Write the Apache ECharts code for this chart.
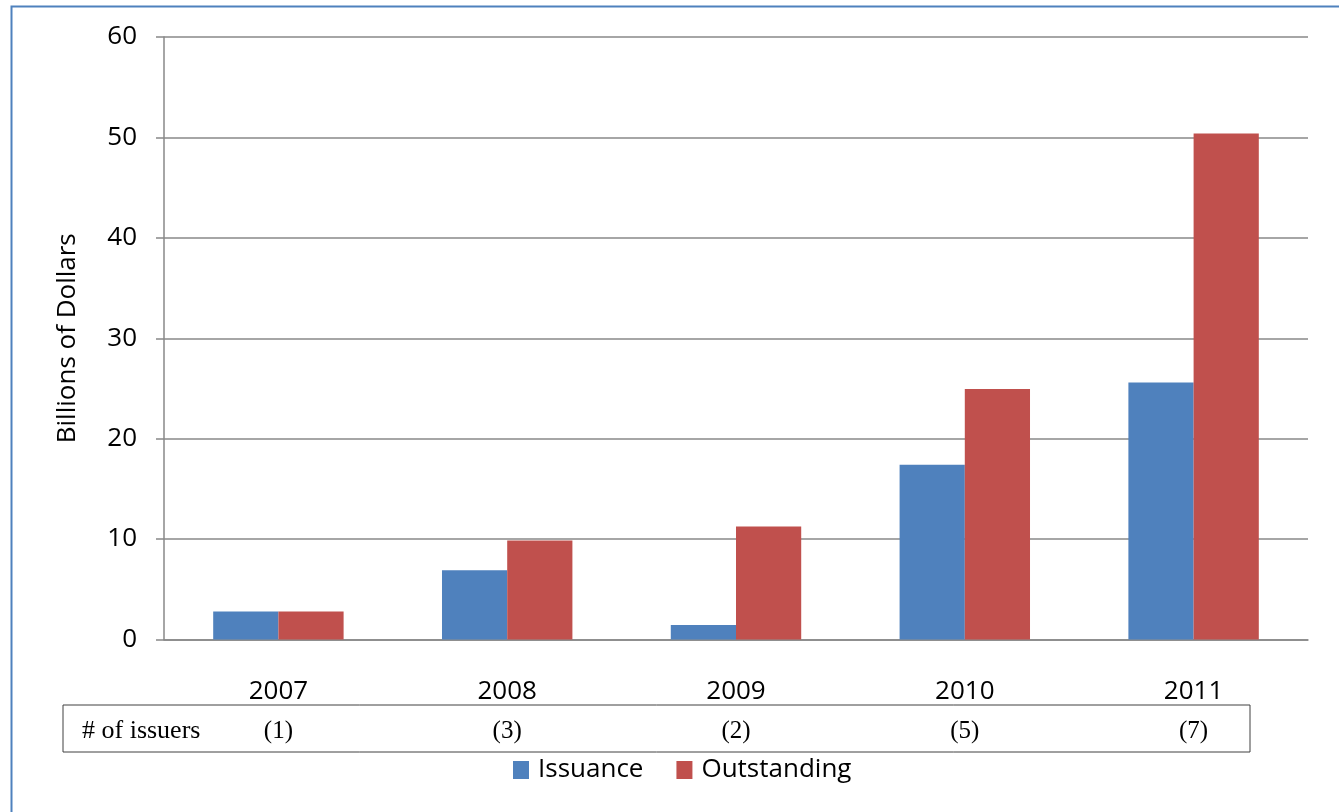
<!DOCTYPE html>
<html>
<head>
<meta charset="utf-8">
<script src="https://cdn.jsdelivr.net/npm/echarts@6/dist/echarts.min.js"></script>
<style>
html,body{margin:0;padding:0;background:#fff;}
#chart{width:1339px;height:812px;}
</style>
</head>
<body>
<div id="chart"></div>
<script>
const years = ['2007', '2008', '2009', '2010', '2011'];
const issuers = ['(1)', '(3)', '(2)', '(5)', '(7)'];
const issuance = [2.8, 6.9, 1.45, 17.4, 25.6];
const outstanding = [2.8, 9.85, 11.25, 24.95, 50.4];
const yTicks = { min: 0, max: 60, interval: 10 };

const chart = echarts.init(document.getElementById('chart'));
const FONT = '"Open Sans", sans-serif';
const SERIF = '"Liberation Serif", "Times New Roman", serif';
chart.setOption({
  animation: false,
  backgroundColor: '#fff',
  grid: { left: 164, right: 31, top: 37, bottom: 172.5, containLabel: false },
  legend: {
    left: 513, top: 757, padding: 0,
    itemWidth: 16, itemHeight: 18, itemGap: 33,
    icon: 'rect',
    textStyle: { fontFamily: FONT, fontSize: 26, color: '#000', padding: [0, 0, 0, 4] },
    data: ['Issuance', 'Outstanding']
  },
  xAxis: {
    type: 'category',
    data: years,
    axisLine: { lineStyle: { color: '#888', width: 1.5 } },
    axisTick: { show: false },
    axisLabel: {
      margin: 32,
      formatter: function (v, i) { return '{y|' + v + '}\n{n|' + issuers[i] + '}'; },
      rich: {
        y: { fontFamily: FONT, fontSize: 26, color: '#000', lineHeight: 40 },
        n: { fontFamily: SERIF, fontSize: 25, color: '#000', lineHeight: 40 }
      }
    }
  },
  yAxis: {
    type: 'value',
    min: yTicks.min, max: yTicks.max, interval: yTicks.interval,
    name: 'Billions of Dollars',
    nameLocation: 'middle',
    nameGap: 83,
    nameTextStyle: { fontFamily: FONT, fontSize: 26, color: '#000' },
    axisLine: { show: true, lineStyle: { color: '#888', width: 1.5 } },
    axisTick: { show: true, length: 8, lineStyle: { color: '#888', width: 1.5 } },
    axisLabel: { margin: 27, fontFamily: FONT, fontSize: 26, color: '#000' },
    splitLine: { lineStyle: { color: '#888', width: 1.5 } }
  },
  series: [
    { name: 'Issuance', type: 'bar', data: issuance, barGap: '0%', barCategoryGap: '43%',
      itemStyle: { color: '#4F81BD' } },
    { name: 'Outstanding', type: 'bar', data: outstanding, barGap: '0%', barCategoryGap: '43%',
      itemStyle: { color: '#C0504D' } }
  ],
  graphic: [
    { type: 'rect', left: 9, top: 4, shape: { x: 0, y: 0, width: 1400, height: 900 },
      style: { fill: 'none', stroke: '#4F81BD', lineWidth: 2 }, silent: true, z: 0 },
    { type: 'rect', shape: { x: 63, y: 705, width: 1187, height: 47 },
      style: { fill: 'none', stroke: '#404040', lineWidth: 1 }, silent: true },
    { type: 'text', x: 82, y: 731,
      style: { text: '# of issuers', font: '26px "Liberation Serif", "Times New Roman", serif', fill: '#000', textVerticalAlign: 'middle' } }
  ]
});
</script>
</body>
</html>
